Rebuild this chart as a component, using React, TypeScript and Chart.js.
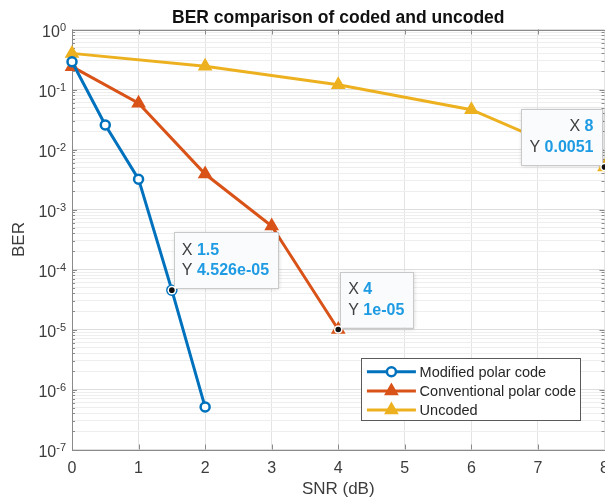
import React, { useEffect, useRef } from 'react';
import { Chart, registerables } from 'chart.js';

Chart.register(...registerables);

// ---------- data ----------
const snrModified = [0, 0.5, 1, 1.5, 2];
const berModified = [0.29, 0.0256, 0.0032, 4.526e-5, 5.1e-7];
const snrConventional = [0, 1, 2, 3, 4];
const berConventional = [0.24, 0.059, 0.0039, 5.3e-4, 1e-5];
const snrUncoded = [0, 2, 4, 6, 8];
const berUncoded = [0.4, 0.245, 0.12, 0.046, 0.0051];
const seriesNames = ['Modified polar code', 'Conventional polar code', 'Uncoded'];
const seriesColors = ['#0072BD', '#D95319', '#EDB120'];
const seriesMarkers = ['circle', 'triangle', 'triangle'];
const xTickValues = [0, 1, 2, 3, 4, 5, 6, 7, 8];
const yDecadeExponents = [-7, -6, -5, -4, -3, -2, -1, 0];
const yMinorMultipliers = [2, 3, 4, 5, 6, 7, 8, 9];
// data tips: [series index, point index, side]
const datatipSeries = [0, 1, 2];
const datatipIndex = [3, 4, 4];
const datatipSide = ['right', 'right', 'left'];

const titleText = 'BER comparison of coded and uncoded';
const xTitle = 'SNR (dB)';
const yTitle = 'BER';

const FONT = '"Liberation Sans", Arial, Helvetica, sans-serif';
const AXIS_COLOR = '#8a8a8a';
const TEXT_COLOR = '#3c3c3c';

const seriesX = [snrModified, snrConventional, snrUncoded];
const seriesY = [berModified, berConventional, berUncoded];

function fmtNum(v: number): string {
  if (v === 0) return '0';
  const a = Math.abs(v);
  if (a >= 1e-4 && a < 1e5) {
    let s = v.toPrecision(4);
    if (s.indexOf('.') >= 0) s = s.replace(/0+$/, '').replace(/\.$/, '');
    return s;
  }
  const e = v.toExponential(3);
  let [m, ex] = e.split('e');
  if (m.indexOf('.') >= 0) m = m.replace(/0+$/, '').replace(/\.$/, '');
  const sign = ex[0] === '-' ? '-' : '+';
  let digits = ex.replace(/^[-+]/, '');
  if (digits.length < 2) digits = '0' + digits;
  return m + 'e' + sign + digits;
}

function drawMarker(ctx: CanvasRenderingContext2D, style: string, x: number, y: number, color: string) {
  ctx.save();
  ctx.strokeStyle = color;
  if (style === 'circle') {
    ctx.lineWidth = 2.5;
    ctx.fillStyle = '#ffffff';
    ctx.beginPath();
    ctx.arc(x, y, 4.5, 0, Math.PI * 2);
    ctx.fill();
    ctx.stroke();
  } else {
    const r = 6.5;
    ctx.lineWidth = 2;
    ctx.fillStyle = color;
    ctx.beginPath();
    ctx.moveTo(x, y - r);
    ctx.lineTo(x + 0.866 * r, y + 0.5 * r);
    ctx.lineTo(x - 0.866 * r, y + 0.5 * r);
    ctx.closePath();
    ctx.fill();
    ctx.stroke();
  }
  ctx.restore();
}

const decorPlugin = {
  id: 'matlabDecor',
  beforeDatasetsDraw(chart: any) {
    const { ctx, chartArea: a, scales } = chart;
    const xs = scales.x;
    const ys = scales.y;
    ctx.save();
    ctx.strokeStyle = AXIS_COLOR;
    ctx.lineWidth = 1;
    // inward tick marks
    ctx.beginPath();
    xTickValues.forEach((v) => {
      const px = Math.round(xs.getPixelForValue(v)) + 0.5;
      ctx.moveTo(px, a.bottom);
      ctx.lineTo(px, a.bottom - 5);
      ctx.moveTo(px, a.top);
      ctx.lineTo(px, a.top + 5);
    });
    yDecadeExponents.forEach((e) => {
      const py = Math.round(ys.getPixelForValue(Math.pow(10, e))) + 0.5;
      ctx.moveTo(a.left, py);
      ctx.lineTo(a.left + 5, py);
      ctx.moveTo(a.right, py);
      ctx.lineTo(a.right - 5, py);
      if (e < 0) {
        yMinorMultipliers.forEach((m) => {
          const q = Math.round(ys.getPixelForValue(m * Math.pow(10, e))) + 0.5;
          ctx.moveTo(a.left, q);
          ctx.lineTo(a.left + 3, q);
          ctx.moveTo(a.right, q);
          ctx.lineTo(a.right - 3, q);
        });
      }
    });
    ctx.stroke();
    // axes box
    ctx.strokeRect(Math.round(a.left) + 0.5, Math.round(a.top) + 0.5, Math.round(a.right - a.left), Math.round(a.bottom - a.top));
    // y tick labels (10^n)
    ctx.fillStyle = TEXT_COLOR;
    ctx.textBaseline = 'middle';
    ctx.textAlign = 'left';
    yDecadeExponents.forEach((e) => {
      const py = ys.getPixelForValue(Math.pow(10, e));
      const sup = String(e);
      ctx.font = `11px ${FONT}`;
      const ws = ctx.measureText(sup).width;
      ctx.font = `16px ${FONT}`;
      const wb = ctx.measureText('10').width;
      const right = a.left - 6;
      ctx.fillText('10', right - ws - wb, py + 3.5);
      ctx.font = `11px ${FONT}`;
      ctx.fillText(sup, right - ws, py - 2);
    });
    ctx.restore();
  },
  afterDraw(chart: any) {
    const { ctx, chartArea: a, scales } = chart;
    const xs = scales.x;
    const ys = scales.y;
    ctx.save();
    // ----- legend -----
    ctx.font = `14.5px ${FONT}`;
    const tw = Math.max(...seriesNames.map((n) => ctx.measureText(n).width));
    const bw = 58.7 + tw + 4;
    const bh = 62;
    const bx = a.right - 24.5 - bw;
    const by = a.bottom - 29.5 - bh;
    ctx.fillStyle = '#ffffff';
    ctx.fillRect(bx, by, bw, bh);
    ctx.strokeStyle = '#5a5a5a';
    ctx.lineWidth = 1;
    ctx.strokeRect(Math.round(bx) + 0.5, Math.round(by) + 0.5, Math.round(bw), Math.round(bh));
    seriesNames.forEach((name, i) => {
      const ry = by + 13.7 + i * 19.2;
      ctx.strokeStyle = seriesColors[i];
      ctx.lineWidth = 3;
      ctx.beginPath();
      ctx.moveTo(bx + 6, ry);
      ctx.lineTo(bx + 55, ry);
      ctx.stroke();
      drawMarker(ctx, seriesMarkers[i], bx + 30.5, ry, seriesColors[i]);
      ctx.fillStyle = '#262626';
      ctx.font = `14.5px ${FONT}`;
      ctx.textBaseline = 'middle';
      ctx.textAlign = 'left';
      ctx.fillText(name, bx + 58.7, ry + 1);
    });
    // ----- data tips -----
    datatipSeries.forEach((s, k) => {
      const idx = datatipIndex[k];
      const xv = seriesX[s][idx];
      const yv = seriesY[s][idx];
      const px = xs.getPixelForValue(xv);
      const py = ys.getPixelForValue(yv);
      const xLab = fmtNum(xv);
      const yLab = fmtNum(yv);
      ctx.font = `bold 16px ${FONT}`;
      const vw = Math.max(ctx.measureText(xLab).width, ctx.measureText(yLab).width);
      ctx.font = `16px ${FONT}`;
      const lw = ctx.measureText('X ').width;
      const w = 8 + lw + vw + 9;
      const h = 56;
      const left = datatipSide[k] === 'right' ? px + 2 : px - 2 - w;
      const top = py - 2 - h;
      ctx.save();
      ctx.shadowColor = 'rgba(0,0,0,0.18)';
      ctx.shadowBlur = 4;
      ctx.shadowOffsetX = 1;
      ctx.shadowOffsetY = 1;
      ctx.fillStyle = '#f9fbfd';
      ctx.fillRect(left, top, w, h);
      ctx.restore();
      ctx.strokeStyle = '#c9c9c9';
      ctx.lineWidth = 1;
      ctx.strokeRect(Math.round(left) + 0.5, Math.round(top) + 0.5, Math.round(w), Math.round(h));
      const rows = [['X', xLab], ['Y', yLab]];
      rows.forEach(([lab, val], r) => {
        const ty = top + 18 + r * 20.7;
        ctx.textBaseline = 'middle';
        ctx.font = `bold 16px ${FONT}`;
        const valW = ctx.measureText(val).width;
        ctx.font = `16px ${FONT}`;
        const labW = ctx.measureText(lab + ' ').width;
        let startX;
        if (datatipSide[k] === 'right') startX = left + 8;
        else startX = left + w - 9 - valW - labW;
        ctx.textAlign = 'left';
        ctx.fillStyle = '#404040';
        ctx.fillText(lab, startX, ty);
        ctx.font = `bold 16px ${FONT}`;
        ctx.fillStyle = '#1e9be3';
        ctx.fillText(val, datatipSide[k] === 'right' ? left + 8 + lw : startX + labW, ty);
      });
      // datatip point marker
      ctx.fillStyle = '#ffffff';
      ctx.beginPath();
      ctx.arc(px, py, 4.3, 0, Math.PI * 2);
      ctx.fill();
      ctx.fillStyle = '#111111';
      ctx.beginPath();
      ctx.arc(px, py, 2.8, 0, Math.PI * 2);
      ctx.fill();
    });
    ctx.restore();
  },
};

export default function App() {
  const canvasRef = useRef<HTMLCanvasElement | null>(null);
  useEffect(() => {
    if (!canvasRef.current) return;
    Chart.defaults.font.family = FONT;
    const yTicks: number[] = [];
    yDecadeExponents.forEach((e) => {
      yTicks.push(Math.pow(10, e));
      if (e < 0) yMinorMultipliers.forEach((m) => yTicks.push(m * Math.pow(10, e)));
    });
    const datasets = seriesNames.map((name, i) => ({
      label: name,
      data: seriesX[i].map((x, j) => ({ x, y: seriesY[i][j] })),
      borderColor: seriesColors[i],
      backgroundColor: seriesColors[i],
      borderWidth: 3,
      pointStyle: seriesMarkers[i] as any,
      pointRadius: seriesMarkers[i] === 'circle' ? 4.5 : 6.5,
      pointBorderWidth: seriesMarkers[i] === 'circle' ? 2.5 : 2,
      pointBackgroundColor: seriesMarkers[i] === 'circle' ? '#ffffff' : seriesColors[i],
      pointBorderColor: seriesColors[i],
      tension: 0,
      clip: false as any,
    }));
    const chart = new Chart(canvasRef.current, {
      type: 'line',
      data: { datasets },
      options: {
        responsive: false,
        animation: false,
        devicePixelRatio: 1,
        layout: { padding: { left: 0, right: 35.5, top: 0, bottom: 0 } },
        plugins: {
          legend: { display: false },
          tooltip: { enabled: false },
          title: {
            display: true,
            text: titleText,
            fullSize: false,
            color: '#111111',
            font: { family: FONT, size: 17.5, weight: 'bold' },
            padding: { top: 7.5, bottom: 1 },
          },
        },
        scales: {
          x: {
            type: 'linear',
            min: 0,
            max: 8,
            afterBuildTicks: (s: any) => {
              s.ticks = xTickValues.map((v) => ({ value: v }));
            },
            afterFit: (s: any) => {
              s.height = 51.5;
            },
            grid: { color: '#e4e4e4', drawTicks: false, lineWidth: 1 },
            border: { display: false },
            ticks: {
              autoSkip: false,
              maxRotation: 0,
              padding: 9,
              color: TEXT_COLOR,
              font: { family: FONT, size: 16 },
              callback: (v: any) => String(v),
            },
            title: {
              display: true,
              text: xTitle,
              color: TEXT_COLOR,
              font: { family: FONT, size: 17 },
              padding: { top: 0, bottom: 1.8 },
            },
          },
          y: {
            type: 'logarithmic',
            min: 1e-7,
            max: 1,
            afterBuildTicks: (s: any) => {
              s.ticks = yTicks.map((v) => ({ value: v, major: Math.abs(Math.log10(v) - Math.round(Math.log10(v))) < 1e-9 }));
            },
            afterFit: (s: any) => {
              s.width = 72;
            },
            grid: {
              drawTicks: false,
              color: (c: any) => (c.tick && c.tick.major ? '#dedede' : '#eeeeee'),
            },
            border: { display: false },
            ticks: { display: false, autoSkip: false },
            title: {
              display: true,
              text: yTitle,
              color: TEXT_COLOR,
              font: { family: FONT, size: 17 },
              padding: { top: 9.4, bottom: 0 },
            },
          },
        },
      },
      plugins: [decorPlugin],
    } as any);
    return () => chart.destroy();
  }, []);
  return (
    <div style={{ position: 'fixed', left: 0, top: 0, width: 605, height: 501, overflow: 'hidden', background: '#ffffff' }}>
      <canvas ref={canvasRef} width={640} height={501} style={{ display: 'block' }} />
    </div>
  );
}
